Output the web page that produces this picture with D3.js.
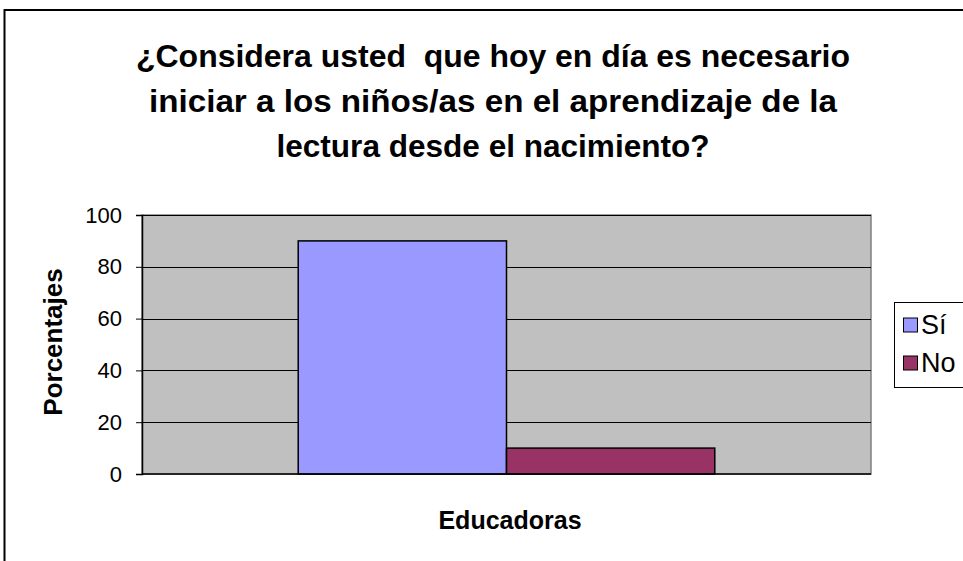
<!DOCTYPE html>
<html><head><meta charset="utf-8">
<script src="https://cdn.jsdelivr.net/npm/d3@7"></script>
<style>body{margin:0;background:#fff}svg{display:block}text{font-family:Arial,"Liberation Sans",sans-serif;white-space:pre}</style>
</head><body>
<svg id="c" width="963" height="561"></svg>
<script>
const titleLines = ["¿Considera usted  que hoy en día es necesario", "iniciar a los niños/as en el aprendizaje de la", "lectura desde el nacimiento?"];
const categories = ["Educadoras"];
const seriesNames = ["Sí", "No"];
const seriesValues = [[90], [10]];
const seriesColors = ["#9999FF", "#993366"];
const yTicks = [0, 20, 40, 60, 80, 100];
const yTitle = "Porcentajes";

const svg = d3.select("#c");
const plot = {left: 142, right: 871, top: 215, bottom: 474};

// outer border
svg.append("rect").attr("x", 4.5).attr("y", 10).attr("width", 1100).attr("height", 700)
  .attr("fill", "#fff").attr("stroke", "#000").attr("stroke-width", 2);

// title
svg.append("g").selectAll("text").data(titleLines).join("text")
  .attr("x", 493).attr("y", (d, i) => 67 + i * 45)
  .attr("text-anchor", "middle").attr("font-weight", "bold").attr("font-size", 31)
  .attr("textLength", (d, i) => [714, 688, 433][i]).attr("lengthAdjust", "spacingAndGlyphs")
  .text(d => d);

const y = d3.scaleLinear().domain([0, 100]).range([plot.bottom, plot.top]);
const x0 = d3.scaleBand().domain(categories).range([plot.left, plot.right]).paddingInner(0).paddingOuter(0.375);
const x1 = d3.scaleBand().domain(seriesNames).range([0, x0.bandwidth()]).padding(0);

// plot background
svg.append("rect").attr("x", plot.left).attr("y", plot.top)
  .attr("width", plot.right - plot.left).attr("height", plot.bottom - plot.top)
  .attr("fill", "#C0C0C0").attr("stroke", "#808080").attr("stroke-width", 1.5);

// gridlines
svg.append("g").selectAll("line").data(yTicks.filter(t => t > 0)).join("line")
  .attr("x1", plot.left).attr("x2", plot.right)
  .attr("y1", d => Math.round(y(d)) + 0.5).attr("y2", d => Math.round(y(d)) + 0.5)
  .attr("stroke", "#000").attr("stroke-width", 1);

// bars
seriesNames.forEach((s, si) => {
  svg.append("g").selectAll("rect").data(categories).join("rect")
    .attr("x", c => x0(c) + x1(s))
    .attr("y", (c, ci) => y(seriesValues[si][ci]))
    .attr("width", x1.bandwidth())
    .attr("height", (c, ci) => y(0) - y(seriesValues[si][ci]))
    .attr("fill", seriesColors[si]).attr("stroke", "#000").attr("stroke-width", 1.5);
});

// y axis
const yAxis = d3.axisLeft(y).tickValues(yTicks).tickSize(6).tickPadding(14).tickFormat(d3.format("d"));
const ya = svg.append("g").attr("transform", `translate(${plot.left},0)`).call(yAxis);
ya.select(".domain").attr("stroke", "#000").attr("stroke-width", 1.5);
ya.selectAll(".tick line").attr("stroke", "#000");
ya.selectAll(".tick text").attr("font-size", 22).attr("font-family", "Arial, 'Liberation Sans', sans-serif").attr("fill", "#000");

// x axis line
svg.append("line").attr("x1", plot.left).attr("x2", plot.right)
  .attr("y1", plot.bottom).attr("y2", plot.bottom).attr("stroke", "#000").attr("stroke-width", 1.5);

// axis titles
svg.append("text").attr("transform", `translate(62,342) rotate(-90)`)
  .attr("text-anchor", "middle").attr("font-weight", "bold").attr("font-size", 26).text(yTitle);
svg.append("text").attr("x", 510).attr("y", 529)
  .attr("text-anchor", "middle").attr("font-weight", "bold").attr("font-size", 25).text(categories[0]);

// legend
const lg = svg.append("g");
lg.append("rect").attr("x", 894.5).attr("y", 302.5).attr("width", 100).attr("height", 85)
  .attr("fill", "#fff").attr("stroke", "#000").attr("stroke-width", 1);
seriesNames.forEach((s, i) => {
  const cy = 325 + i * 38;
  lg.append("rect").attr("x", 903.5).attr("y", cy - 7).attr("width", 14).attr("height", 14)
    .attr("fill", seriesColors[i]).attr("stroke", "#000").attr("stroke-width", 1);
  lg.append("text").attr("x", 921).attr("y", cy + 9).attr("font-size", 27).text(s);
});
</script>
</body></html>
